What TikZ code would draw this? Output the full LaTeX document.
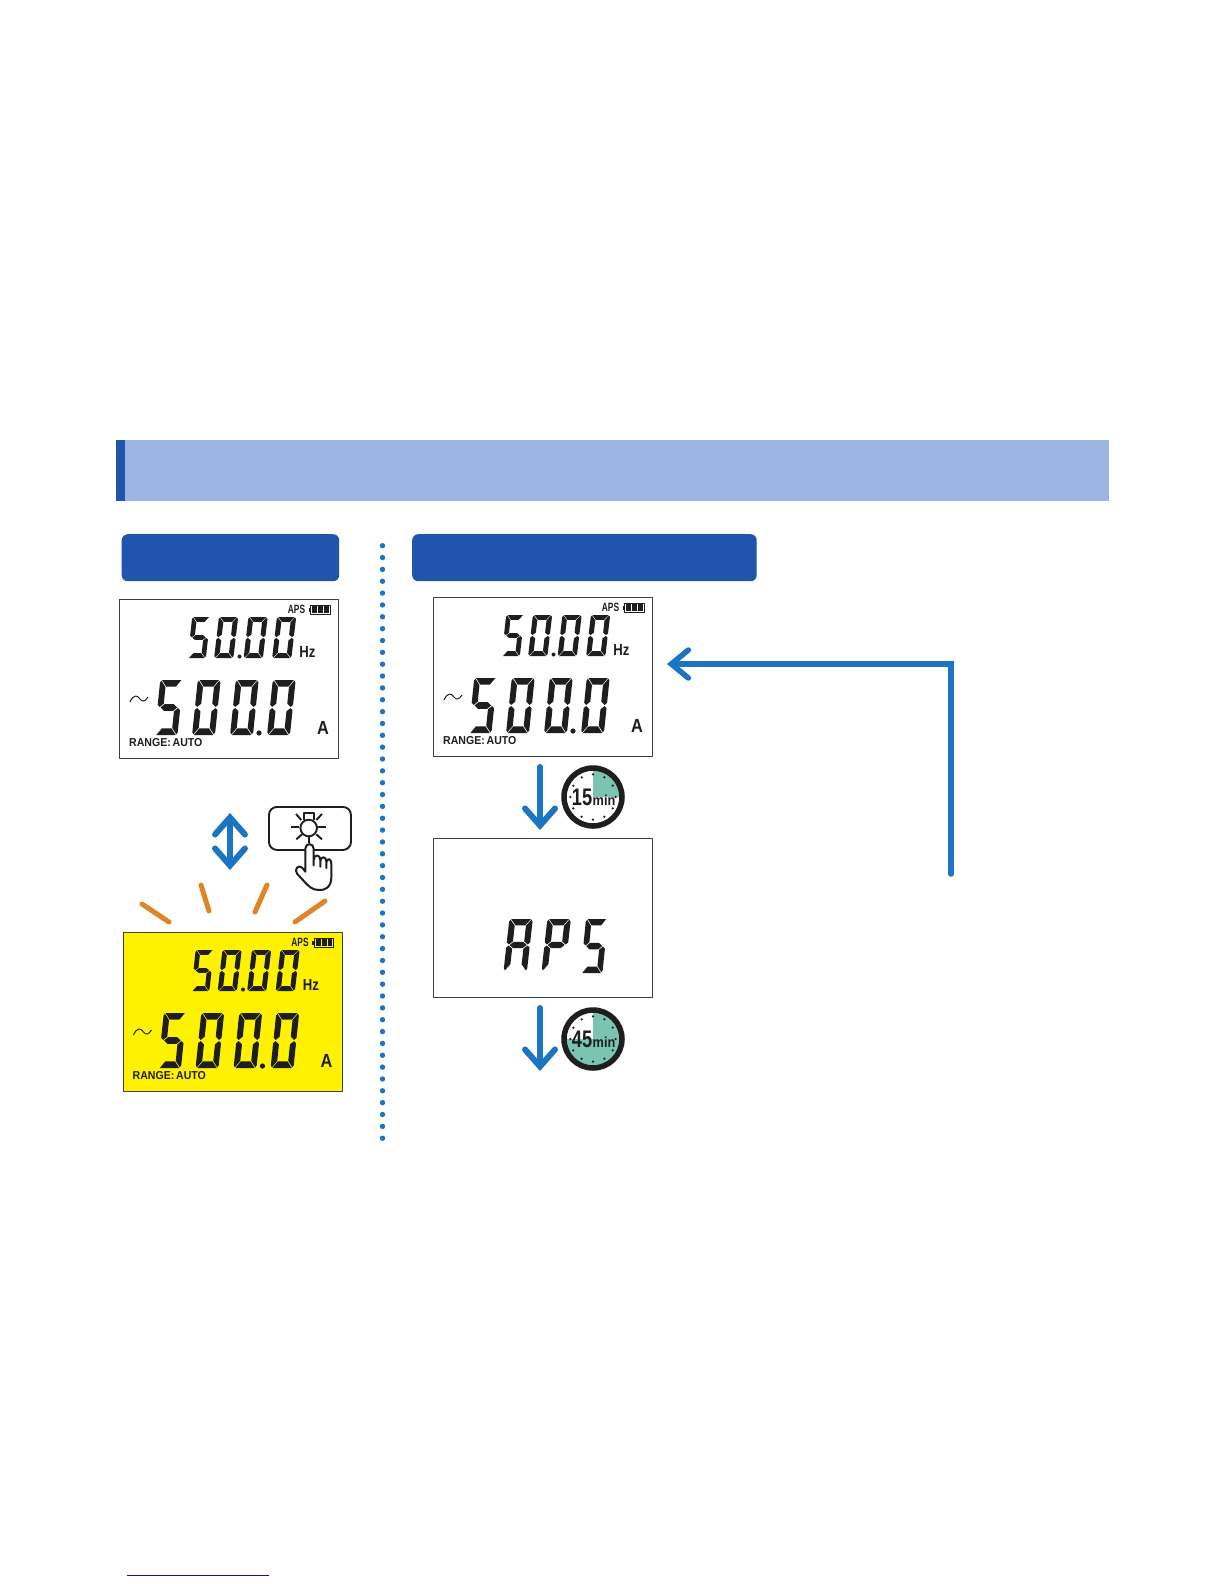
\documentclass[tikz,border=0pt]{standalone}
\usepackage{fontspec}
\setmainfont{Liberation Sans}
\usetikzlibrary{arrows.meta,calc}
\definecolor{hdrblue}{HTML}{2155AD}
\definecolor{bannerblue}{HTML}{9CB5E2}
\definecolor{arrowblue}{HTML}{1B75C2}
\definecolor{rayorange}{HTML}{E08526}
\definecolor{lcdyellow}{HTML}{FFF200}
\definecolor{clockteal}{HTML}{7CC4B2}
\definecolor{panelgrey}{HTML}{3F3F3F}
\definecolor{inkblack}{HTML}{1E1E1E}
\definecolor{linkblue}{HTML}{10109A}
\tikzset{
  panelbox/.style={draw=panelgrey,line width=1.2pt,rectangle,inner sep=0pt,minimum width=219pt,minimum height=158.5pt,anchor=north west},
  headerbox/.style={fill=hdrblue,rectangle,rounded corners=6pt,inner sep=0pt,minimum height=47pt,anchor=north west},
  flatbox/.style={rectangle,inner sep=0pt,anchor=north west},
  lcdtext/.style={inner sep=0pt,text=inkblack},
  bluearrow/.style={draw=arrowblue,line width=#1,line cap=round},
  bluearrow/.default=6pt,
  rayline/.style={draw=rayorange,line width=5pt,line cap=round},
  lampline/.style={draw=inkblack,line width=1.9pt},
  clocktext/.style={inner sep=0pt,anchor=base,text=inkblack},
  barbA/.tip={Straight Barb[length=17pt,width=30pt,line cap=round,line join=miter]},
  barbB/.tip={Straight Barb[length=17pt,width=28pt,line cap=round,line join=miter]}
}
\def\lcdsega{\fill[inkblack] (0.6,20) -- (9.4,20) -- (7.2,17.6) -- (2.8,17.6) -- cycle;}
\def\lcdsegb{\fill[inkblack] (9.65,19.75) -- (10.2,19) -- (10.2,11) -- (9.2,10.2) -- (7.5,11.4) -- (7.5,17.4) -- cycle;}
\def\lcdsegc{\fill[inkblack] (9.2,9.8) -- (10.2,9) -- (10.2,1) -- (9.65,0.25) -- (7.5,2.6) -- (7.5,8.6) -- cycle;}
\def\lcdsegd{\fill[inkblack] (0.6,0) -- (9.4,0) -- (7.2,2.4) -- (2.8,2.4) -- cycle;}
\def\lcdsege{\fill[inkblack] (0.35,0.25) -- (-0.2,1) -- (-0.2,9) -- (0.8,9.8) -- (2.5,8.6) -- (2.5,2.6) -- cycle;}
\def\lcdsegf{\fill[inkblack] (0.35,19.75) -- (-0.2,19) -- (-0.2,11) -- (0.8,10.2) -- (2.5,11.4) -- (2.5,17.4) -- cycle;}
\def\lcdsegg{\fill[inkblack] (1.2,10) -- (2.9,8.8) -- (7.1,8.8) -- (8.8,10) -- (7.1,11.2) -- (2.9,11.2) -- cycle;}
% x, y of bottom-left, x unit, height, segments
\newcommand{\lcddigit}[5]{%
  \begin{scope}[shift={(#1,#2)},xscale=#3,yscale=-#4/20,xslant=-0.13]
    \foreach \sgm in {#5}{\csname lcdseg\sgm\endcsname}
  \end{scope}}
% name, x, y, fill
\newcommand{\lcdpanel}[4]{%
  \node[panelbox,fill=#4] (#1) at (#2,#3) {};
  \begin{scope}[shift={(#2,#3)}]
    \lcddigit{69}{59}{1.75}{41}{a,f,g,c,d}
    \lcddigit{95.5}{59}{1.85}{41}{a,b,c,d,e,f}
    \lcddigit{125}{59}{1.85}{41}{a,b,c,d,e,f}
    \lcddigit{153.5}{59}{1.85}{41}{a,b,c,d,e,f}
    \fill[inkblack] (120.5,57.5) circle (2pt);
    \lcddigit{36}{136}{2.2}{55}{a,f,g,c,d}
    \lcddigit{73.5}{136}{2.2}{55}{a,b,c,d,e,f}
    \lcddigit{111.5}{136}{2.2}{55}{a,b,c,d,e,f}
    \lcddigit{148.5}{136}{2.2}{55}{a,b,c,d,e,f}
    \fill[inkblack] (140,134) circle (2.6pt);
    \draw[inkblack,line width=1pt] (11,103) .. controls (15,94) and (19,97) .. (21,100) .. controls (23,103) and (26,103) .. (29,98);
    \node[lcdtext,font=\fontsize{11.5}{11.5}\selectfont\bfseries,anchor=west,xscale=.92] (#1-range) at (10,144) {RANGE:\,AUTO};
    \node[lcdtext,font=\fontsize{12}{12}\selectfont\bfseries,xscale=.7] (#1-aps) at (177.5,10) {APS};
    \node[lcdtext,font=\fontsize{16}{16}\selectfont\bfseries,xscale=.82] (#1-hz) at (188.5,53) {Hz};
    \node[lcdtext,font=\fontsize{19}{19}\selectfont\bfseries,xscale=.86] (#1-a) at (204,129) {A};
    \draw[inkblack,line width=1pt] (191.5,6) rectangle (211,15);
    \fill[inkblack] (189.5,8.5) rectangle (191.5,12.5);
    \fill[inkblack] (193,7) rectangle (198,14);
    \fill[inkblack] (199,7) rectangle (204,14);
    \fill[inkblack] (205,7) rectangle (209.5,14);
  \end{scope}}
% name, cx, cy, wedge delta angle, text
\newcommand{\clockface}[5]{%
  \coordinate (#1) at (#2,#3);
  \begin{scope}[shift={(#2,#3)}]
    \fill[white] (0,0) circle (28pt);
    \fill[clockteal] (0,0) -- (0,-27) arc[start angle=90,delta angle=#4,radius=27pt] -- cycle;
    \draw[draw=inkblack,line width=5.5pt] (0,0) circle (29pt);
    \foreach \ang in {0,30,...,330}{\fill[inkblack] (\ang:22.7 and -22.7) circle (1.25pt);}
    \node[clocktext,font=\fontsize{24}{24}\selectfont\bfseries,xscale=.76] (#1-n) at (-11,8) {#5};
    \node[clocktext,font=\fontsize{14.5}{14.5}\selectfont\bfseries,xscale=.88] (#1-m) at (11,8) {min};
  \end{scope}}
\begin{document}
\begin{tikzpicture}[x=1pt,y=-1pt,line join=round]
\useasboundingbox (0,0) rectangle (1224,1584);
\fill[white] (0,0) rectangle (1224,1584);
% banner
\node[flatbox,fill=bannerblue,minimum width=993pt,minimum height=61pt] (banner) at (116,440) {};
\node[flatbox,fill=hdrblue,minimum width=9pt,minimum height=61pt] (bannerstrip) at (116,440) {};
% headers
\node[headerbox,minimum width=217.5pt] (headerleft) at (121.5,534) {};
\node[headerbox,minimum width=344.5pt] (headerright) at (412,534) {};
% dotted separator
\foreach \dy in {0,1,...,50}{\fill[arrowblue] (382.5,545.7+11.85*\dy) circle (2.7pt);}
% panels
\lcdpanel{lcdnormal}{119}{599}{white}
\lcdpanel{lcdlit}{122.5}{932}{lcdyellow}
\lcdpanel{lcdon}{433}{597}{white}
\node[panelbox,fill=white] (lcdaps) at (433,838) {};
\lcddigit{504}{971}{2.25}{52}{a,b,c,e,f,g}
\lcddigit{542}{971}{2.25}{52}{a,b,e,f,g}
\lcddigit{581}{973}{2.1}{54}{a,f,g,c,d}
% arrows
\coordinate (updnA) at (230,870);
\coordinate (updnB) at (230,813);
\draw[bluearrow,{barbA}-{barbA}] (updnA) -- (updnB);
\coordinate (ar1a) at (540,767);
\coordinate (ar1b) at (540,830);
\draw[bluearrow,-{barbA}] (ar1a) -- (ar1b);
\coordinate (ar2a) at (540,1008);
\coordinate (ar2b) at (540,1071);
\draw[bluearrow,-{barbA}] (ar2a) -- (ar2b);
\coordinate (loopa) at (951,874);
\coordinate (loopb) at (667,664);
\draw[bluearrow=5.5pt,line join=miter,-{barbB}] (loopa) |- (loopb);
% rays
\coordinate (ray1a) at (142,904); \coordinate (ray1b) at (169,922);
\coordinate (ray2a) at (201,885); \coordinate (ray2b) at (209,911);
\coordinate (ray3a) at (267,885); \coordinate (ray3b) at (255,912);
\coordinate (ray4a) at (325,901); \coordinate (ray4b) at (295,922);
\draw[rayline] (ray1a) -- (ray1b);
\draw[rayline] (ray2a) -- (ray2b);
\draw[rayline] (ray3a) -- (ray3b);
\draw[rayline] (ray4a) -- (ray4b);
% button
\node[flatbox,draw=inkblack,line width=1.9pt,rounded corners=8pt,minimum width=82pt,minimum height=43pt,fill=white] (button) at (268,806) {};
\draw[lampline] (308.7,828) circle (8.3pt);
\draw[lampline] (291.3,826.7) -- (299.3,826.7);
\draw[lampline] (317,826.7) -- (326.3,826.7);
\draw[lampline] (296,814) -- (301.3,820);
\draw[lampline] (322,814) -- (316.3,820);
\draw[lampline] (296.3,839.3) -- (302,834.3);
\draw[lampline] (322,839.3) -- (316.3,834.3);
\draw[lampline] (303.7,819.5) -- (303.7,812.7) -- (313.7,812.7) -- (313.7,819.5);
\draw[lampline] (309.3,837.3) -- (309.3,843.3);
% hand
\begin{scope}[shift={(262,800)},xscale=1/3,yscale=1/3]
  \filldraw[fill=white,draw=inkblack,line width=2pt,line join=round]
    (130,215) -- (130,146) .. controls (130,128) and (155,128) .. (155,146)
    -- (155,196) -- (155,180) .. controls (155,162) and (175,162) .. (175,180)
    -- (175,200) -- (175,184) .. controls (175,168) and (193,168) .. (193,184)
    -- (193,204) -- (193,192) .. controls (193,172) and (208,172) .. (208,194)
    -- (208,232) .. controls (208,262) and (188,272) .. (170,270)
    .. controls (150,270) and (140,258) .. (130,248)
    -- (106,222) .. controls (95,210) and (108,190) .. (122,205) -- cycle;
\end{scope}
% clocks
\clockface{clockA}{593}{797}{-90}{15}
\clockface{clockB}{593}{1039}{-270}{45}
% underline
\coordinate (ula) at (127,1575);
\coordinate (ulb) at (269,1575);
\draw[linkblue,line width=1pt] (ula) -- (ulb);
\end{tikzpicture}
\end{document}
